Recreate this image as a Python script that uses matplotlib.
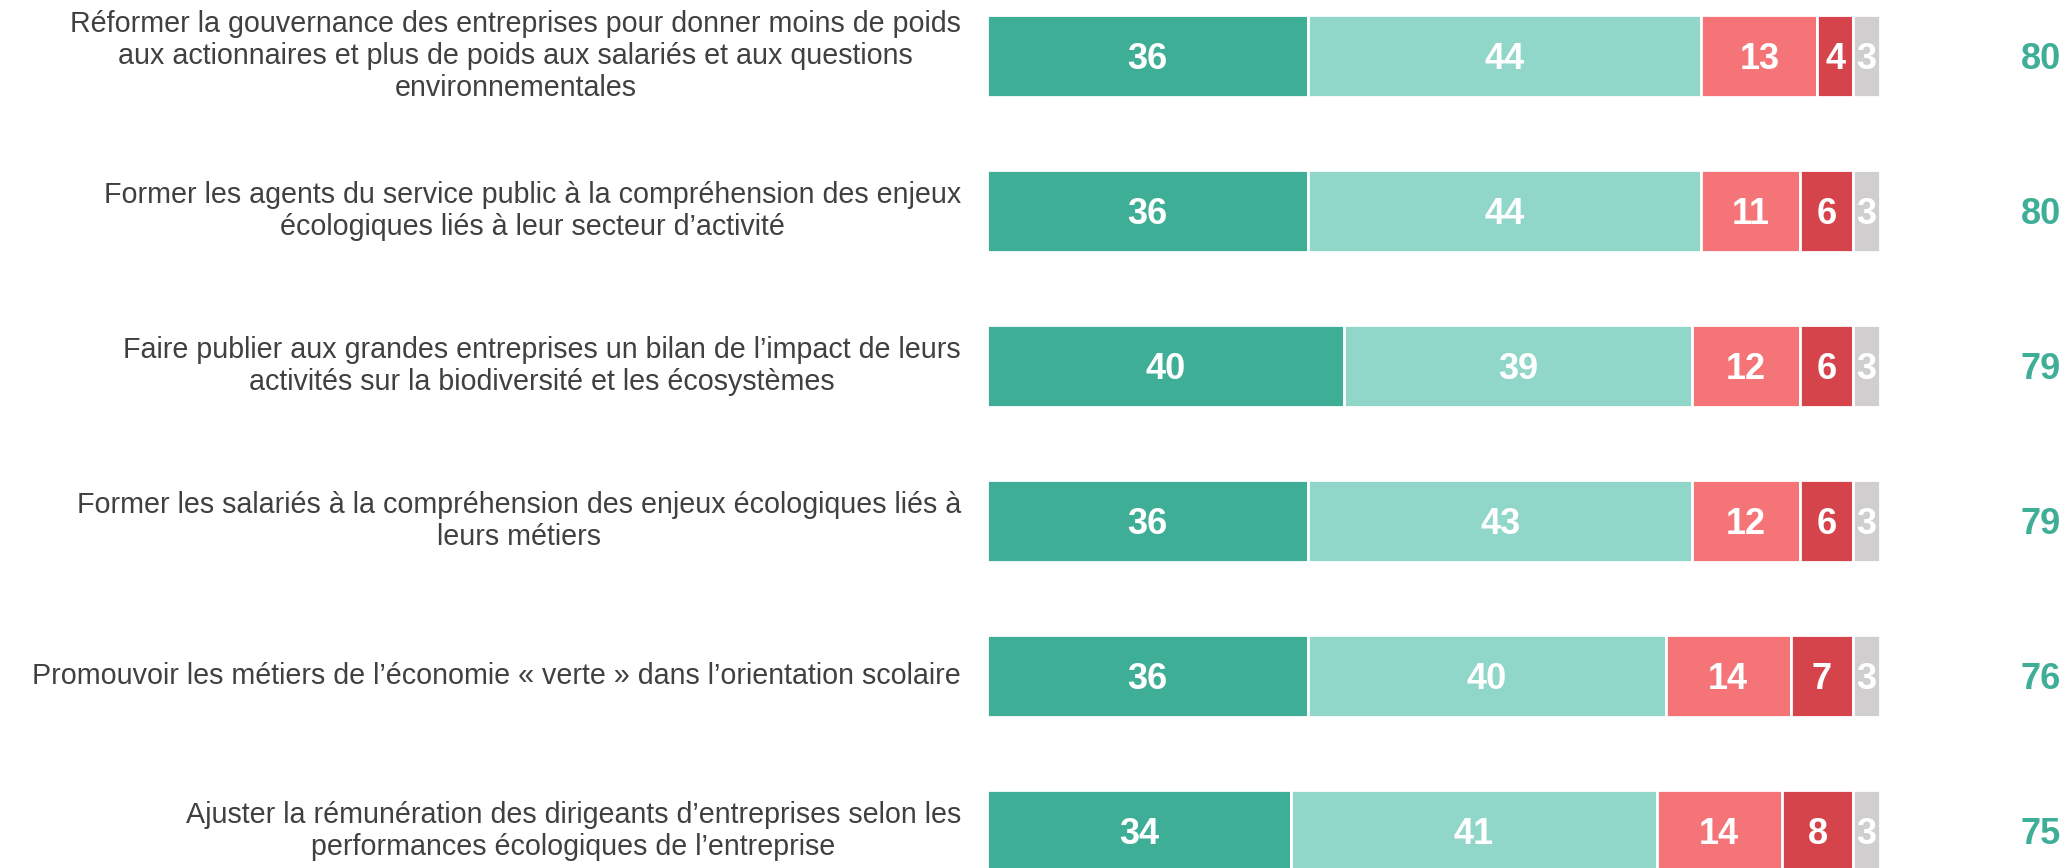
import matplotlib.pyplot as plt
import numpy as np

plt.rcParams['font.family'] = ['Liberation Sans', 'DejaVu Sans']

labels = [
    "Réformer la gouvernance des entreprises pour donner moins de poids\n"
    "aux actionnaires et plus de poids aux salariés et aux questions\n"
    "environnementales",
    "Former les agents du service public à la compréhension des enjeux\n"
    "écologiques liés à leur secteur d’activité",
    "Faire publier aux grandes entreprises un bilan de l’impact de leurs\n"
    "activités sur la biodiversité et les écosystèmes",
    "Former les salariés à la compréhension des enjeux écologiques liés à\n"
    "leurs métiers",
    "Promouvoir les métiers de l’économie « verte » dans l’orientation scolaire",
    "Ajuster la rémunération des dirigeants d’entreprises selon les\n"
    "performances écologiques de l’entreprise",
]

tout_a_fait = [36, 36, 40, 36, 36, 34]
plutot_oui = [44, 44, 39, 43, 40, 41]
plutot_non = [13, 11, 12, 12, 14, 14]
pas_du_tout = [4, 6, 6, 6, 7, 8]
nsp = [3, 3, 3, 3, 3, 3]
totals = [80, 80, 79, 79, 76, 75]

colors = ['#3FAE96', '#90D7C9', '#F47477', '#D6444B', '#D0CECF']
series = [tout_a_fait, plutot_oui, plutot_non, pas_du_tout, nsp]

W, H = 2069, 868
fig = plt.figure(figsize=(W / 100, H / 100), dpi=100)

# bars from x=987px to 1880px, rows every 155px starting at 56px
x0, x1 = 987, 1880
ax = fig.add_axes([x0 / W, 0, (x1 - x0) / W, 1])
ax.set_xlim(0, 100)
pitch = 155
top = 56
ax.set_ylim((H - top) / pitch, -top / pitch)
ax.axis('off')

y = np.arange(len(labels))
left = np.zeros(len(labels))
for vals, col in zip(series, colors):
    vals = np.array(vals)
    ax.barh(y, vals, left=left, height=0.525, color=col,
            edgecolor='white', linewidth=2)
    for yi, l, v in zip(y, left, vals):
        ax.text(l + v / 2, yi + 0.02, str(v), ha='center', va='center',
                color='white', fontsize=26, fontweight='bold')
    left = left + vals

for yi, lab, t in zip(y, labels, totals):
    ax.text(-2.9, yi, lab, ha='right', va='center', multialignment='center',
            fontsize=20.6, color='#404040', linespacing=1.2)
    ax.text(118, yi + 0.02, str(t), ha='center', va='center',
            fontsize=26, fontweight='bold', color='#3FAE96')

fig.savefig('out.png', dpi=100)
